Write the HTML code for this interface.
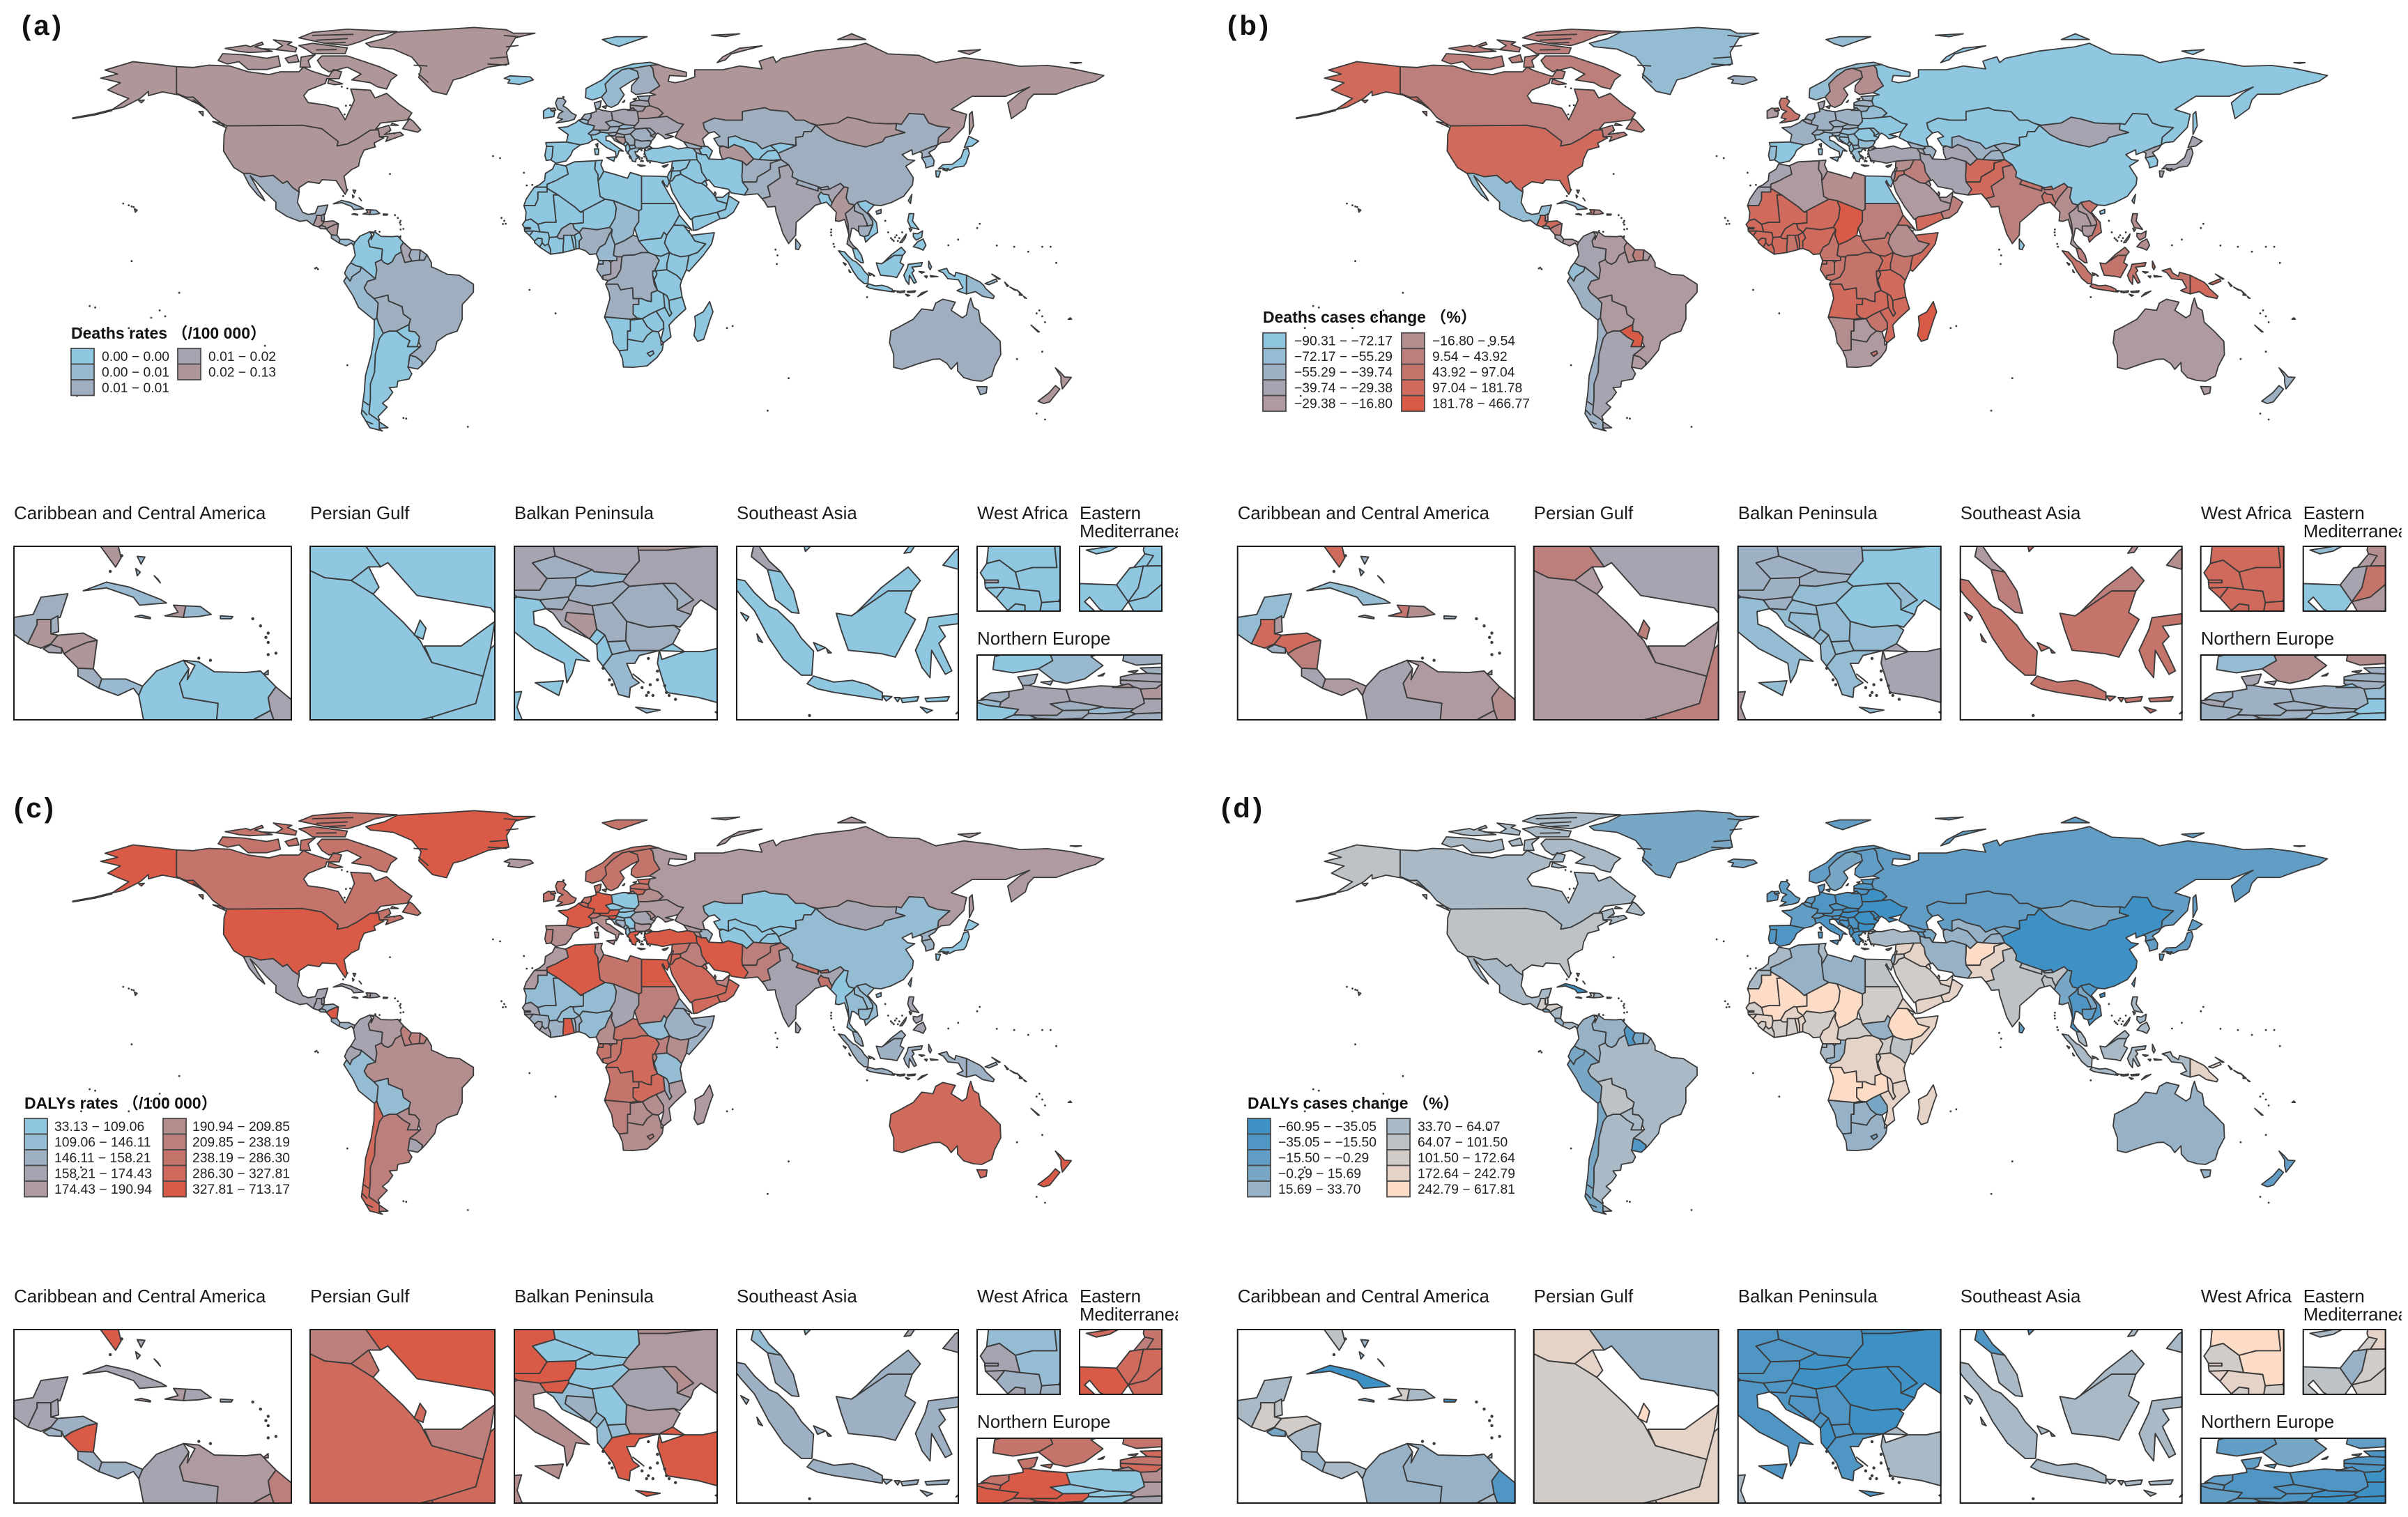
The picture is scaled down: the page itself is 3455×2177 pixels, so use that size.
<!DOCTYPE html>
<html lang="en">
<head>
<meta charset="utf-8">
<title>World maps of deaths and DALYs</title>
<style>
html,body{margin:0;padding:0;background:#fff;width:3455px;height:2177px;overflow:hidden}
svg{display:block}
text{font-family:"Liberation Sans","Noto Sans CJK SC",sans-serif;fill:#1a1a1a}
.plabel{font-weight:700;font-size:40px;letter-spacing:4px;fill:#111}
.ltitle{font-weight:700;font-size:23px;fill:#111}
.ltext{font-size:19.3px;fill:#222}
.ititle{font-size:25.9px;fill:#1a1a1a}
</style>
</head>
<body>
<svg id="figure" xmlns="http://www.w3.org/2000/svg" width="3455" height="2177" viewBox="0 0 3455 2177">
<rect width="3455" height="2177" fill="#fff"/>
<defs id="defs"></defs>
<g id="maps"></g>
<text class="plabel" x="31" y="50">(a)</text>
<text class="plabel" x="1761" y="50">(b)</text>
<text class="plabel" x="20" y="1173">(c)</text>
<text class="plabel" x="1752" y="1173">(d)</text>
</svg>
<script>
/* ---------- chart data ---------- */
const countries = ["Canada","United States","Greenland","Mexico","Guatemala","Belize","Honduras","El Salvador","Nicaragua","Costa Rica",
"Panama","Cuba","Haiti","Dominican Republic","Jamaica","Puerto Rico","Bahamas","Trinidad","Colombia","Venezuela",
"Guyana","Suriname","French Guiana","Brazil","Ecuador","Peru","Bolivia","Paraguay","Chile","Argentina",
"Uruguay","Morocco","Western Sahara","Algeria","Tunisia","Libya","Egypt","Mauritania","Mali","Niger",
"Chad","Sudan","South Sudan","Eritrea","Ethiopia","Somalia","Kenya","Uganda","Tanzania","Rwanda Burundi",
"DR Congo","Congo","Gabon","Equatorial Guinea","Cameroon","Central African Republic","Nigeria","Benin","Togo","Ghana",
"Burkina Faso","Ivory Coast","Liberia","Sierra Leone","Guinea","Guinea-Bissau","Senegal","Gambia","Angola","Zambia",
"Malawi","Mozambique","Zimbabwe","Namibia","Botswana","South Africa","Lesotho","Madagascar","Portugal","Spain",
"France","Belgium","Netherlands","Germany","Switzerland","Austria","Italy","United Kingdom","Ireland","Denmark",
"Norway","Sweden","Finland","Iceland","Estonia","Latvia","Lithuania","Poland","Czechia","Slovakia",
"Hungary","Slovenia","Croatia","Bosnia","Serbia","Montenegro","Albania","North Macedonia","Bulgaria","Romania",
"Moldova","Ukraine","Belarus","Greece","Turkey","Cyprus","Russia","Kazakhstan","Georgia","Armenia",
"Azerbaijan","Uzbekistan","Turkmenistan","Kyrgyzstan","Tajikistan","Afghanistan","Pakistan","Iran","Iraq","Syria",
"Lebanon","Israel","Jordan","Saudi Arabia","Kuwait","UAE","Qatar","Oman","Yemen","India",
"Bangladesh","Nepal","Bhutan","Sri Lanka","China","Mongolia","North Korea","South Korea","Japan","Taiwan",
"Myanmar","Thailand","Laos","Cambodia","Vietnam","Malaysia","Indonesia","Philippines","Papua New Guinea","Australia",
"New Zealand","Solomon Islands","New Caledonia","Fiji"];

const deathRates = [.04,.04,.04,.009,.04,.009,.04,.015,.04,.009,
.005,.005,.04,.005,.005,.005,.005,.009,.002,.002,
.015,.009,.009,.009,.005,.005,.009,.002,.002,.002,
.005,.002,.002,.002,.002,.002,.002,.002,.002,.002,
.005,.002,.002,.002,.002,.002,.002,.002,.002,.002,
.009,.015,.009,.005,.005,.009,.009,.002,.002,.002,
.009,.002,.002,.002,.002,.002,.002,.015,.009,.002,
.002,.002,.002,.002,.002,.002,.002,.002,.002,.002,
.002,.005,.009,.015,.005,.009,.002,.009,.002,.009,
.002,.005,.009,.002,.009,.015,.015,.015,.009,.005,
.009,.009,.015,.04,.009,.002,.002,.005,.009,.009,
.009,.015,.04,.005,.002,.002,.04,.009,.009,.009,
.002,.002,.04,.002,.002,.009,.009,.002,.002,.002,
.002,.002,.002,.002,.002,.002,.002,.002,.002,.015,
.002,.009,.009,.005,.009,.04,.009,.005,.002,.005,
.04,.015,.009,.009,.002,.002,.002,.002,.005,.009,
.04,.005,.005,.005];

const deathChange = [25,140,-63,-63,140,-23,140,-47,25,-34,
-23,-63,70,-3,-47,-47,-47,-23,-34,-23,
-3,25,-23,-23,-63,-47,-23,250,-47,-34,
-23,-34,-34,-23,-23,-3,-80,140,140,140,
250,25,70,70,-3,140,70,140,140,70,
70,70,70,70,70,70,140,140,140,70,
140,140,140,140,140,140,140,140,140,140,
140,140,70,-3,-23,-23,70,250,-63,-80,
-47,-34,-47,-47,-47,-47,-63,70,-23,-34,
-63,-3,-3,-47,-47,-47,-47,-47,-47,-47,
-63,-47,-63,-63,-63,-63,-63,-63,-63,-80,
-63,-80,-63,-63,-34,-63,-80,-80,-47,-34,
-47,-47,-34,-47,-47,140,140,-34,25,-3,
-23,-34,70,-23,-23,-23,25,25,140,25,
70,70,70,-80,-80,-34,-34,-80,-34,-80,
-3,-23,-23,-23,70,25,70,-3,140,-23,
-47,70,-23,-23];

const dalyRates = [262,420,420,166,166,166,152,152,420,152,
152,166,182,166,200,152,166,200,166,182,
224,224,224,200,166,130,130,200,305,224,
166,182,182,420,200,262,420,130,130,130,
166,224,130,152,152,152,200,224,130,224,
305,262,262,262,200,262,130,152,152,420,
130,152,166,166,152,166,166,166,262,305,
152,182,200,224,200,200,224,182,224,200,
420,305,262,420,262,420,200,262,262,262,
262,262,262,182,305,262,305,80,80,80,
80,420,130,152,80,130,130,130,182,166,
200,182,200,420,420,305,182,80,182,200,
152,80,80,80,80,224,224,420,224,262,
224,305,305,305,262,224,305,305,305,166,
262,262,262,166,130,166,152,152,80,130,
80,130,130,130,130,152,152,166,152,305,
420,152,152,152];

const dalyChange = [48,82,8,48,135,82,135,8,48,25,
48,-45,135,48,8,-45,25,25,25,25,
-25,8,25,48,8,8,82,48,8,48,
-25,48,48,25,48,25,82,350,350,350,
350,135,25,205,350,205,82,135,205,135,
205,25,48,48,205,135,135,205,205,135,
205,135,135,135,205,205,135,205,350,350,
205,205,8,25,25,25,8,205,-25,-25,
-8,-8,-8,-25,-8,-25,-25,-8,-8,-8,
-8,8,-8,8,-25,-25,-25,-25,-25,-45,
-45,-25,-25,-25,-25,-25,-45,-25,-45,-45,
-45,-45,-45,-25,48,48,-8,-8,-8,-8,
8,25,25,8,25,350,205,25,205,205,
135,25,135,135,205,205,350,205,205,82,
82,82,25,-8,-45,8,-8,-8,-8,-8,
8,-25,8,-8,-25,48,48,48,205,25,
-8,48,48,48];

const deathRateBreaks = [0,.003,.007,.012,.02,.13];
const deathChangeBreaks = [-90.31,-72.17,-55.29,-39.74,-29.38,-16.80,9.54,43.92,97.04,181.78,466.77];
const dalyRateBreaks = [33.13,109.06,146.11,158.21,174.43,190.94,209.85,238.19,286.30,327.81,713.17];
const dalyChangeBreaks = [-60.95,-35.05,-15.50,-0.29,15.69,33.70,64.07,101.50,172.64,242.79,617.81];

const deathRateLabels = ["0.00 − 0.00","0.00 − 0.01","0.01 − 0.01","0.01 − 0.02","0.02 − 0.13"];
const deathChangeLabels = ["−90.31 − −72.17","−72.17 − −55.29","−55.29 − −39.74","−39.74 − −29.38","−29.38 − −16.80","−16.80 − 9.54","9.54 − 43.92","43.92 − 97.04","97.04 − 181.78","181.78 − 466.77"];
const dalyRateLabels = ["33.13 − 109.06","109.06 − 146.11","146.11 − 158.21","158.21 − 174.43","174.43 − 190.94","190.94 − 209.85","209.85 − 238.19","238.19 − 286.30","286.30 − 327.81","327.81 − 713.17"];
const dalyChangeLabels = ["−60.95 − −35.05","−35.05 − −15.50","−15.50 − −0.29","−0.29 − 15.69","15.69 − 33.70","33.70 − 64.07","64.07 − 101.50","101.50 − 172.64","172.64 − 242.79","242.79 − 617.81"];

const palette5 = ["#8fc6e0","#98b9d0","#a0afc0","#a8a3b0","#af9699"];
const palette10 = ["#8fc6e0","#94bcd3","#9eb0c3","#a7a4b2","#ae9a9f","#b48d8e","#bc7f7c","#c5746b","#cf6a5c","#d95b47"];
const paletteCool = ["#3e91c5","#4f96c5","#629dc5","#78a6c5","#97b1c6","#a9b9c6","#bdc2c7","#d2ccc9","#e6d3c7","#fcdcc6"];

const insetTitles = ["Caribbean and Central America","Persian Gulf","Balkan Peninsula","Southeast Asia","West Africa","Northern Europe"];

/* ---------- country outlines, longitude,latitude ---------- */
const geo = {
"Canada":"-141,69.6 -135,69.3 -129.4,70.1 -122,69.8 -115.4,67.8 -108,66.8 -103.9,67.8 -97.3,67.8 -95.7,69.4 -93.2,68.2 -88.2,66.6 -86.6,66.2 -85,68.6 -82.1,67.8 -82.9,65.4 -87.4,65.4 -87.8,63.8 -94,61.4 -95.6,59.5 -94,57.1 -88,56.3 -83.3,55.1 -82,53.1 -80.8,51.1 -79.2,54.3 -77.5,57.9 -78.8,61.8 -71.8,61.4 -70.1,58.7 -66,60.3 -61.5,56.5 -57,53.5 -58.6,51.1 -68.1,50 -70,47.8 -65.2,49.2 -64.5,47.5 -66.8,46 -61.1,46.8 -60,45.8 -63.5,44.6 -66.3,43.6 -65.5,45.2 -67.2,45.3 -68.5,45.2 -68.9,47.6 -71.8,47.5 -76.7,44.4 -80,42.7 -83.7,42 -83.3,43.6 -89.1,48 -96,49.2 -123,49 -125,50 -128,52 -130.3,54.7 -135,59 -137.5,58.9 -141,60.3|-126.1,71.7 -124.5,74.1 -117,73.7 -108.8,72.5 -104.7,73.3 -103.9,69.8 -108.8,68.6 -115.4,68.6 -118.7,71.3 -122.8,70.5|-102.2,72.5 -98.1,73.7 -97.3,71.3 -101,70.9|-96.5,72.9 -91.5,73.7 -94,71.7 -93.2,69.4 -96.9,69.4|-123.6,75.9 -116.2,77 -114.6,76.5 -110.5,78.1 -110,77.3 -113,76.5 -106.8,74.9 -115,74.5 -118.7,74.9|-106.4,78.9 -99.8,78.1 -101.4,77.3 -98.1,76.1 -98.5,74.7 -105.5,75.5 -103.1,76.9|-97.3,76.9 -92.4,77.7 -80,76.1 -80.8,74.1 -92.4,74.1 -94.8,75.7|-97.3,79.6 -92.4,81.5 -80,82.6 -62.3,81.8 -70.1,80.4 -75.9,78.1 -80,76.9 -88.2,77.7 -94,78.9|-90.7,71.7 -89.1,73.3 -80,73.3 -75.1,71.7 -68.1,69.4 -62.3,66.6 -64.4,65 -66,61.8 -69.3,62.6 -71.8,64 -78.4,65 -75.1,67 -80,69.4 -83.3,68.6 -86.6,67.8 -89.1,69.4|-87,63.8 -86.6,65.2 -81.7,63.6 -84.5,63.3|-60.3,48 -57.8,51.5 -56.6,50.7 -53.8,47.6 -54.9,46.8|-128,50.5 -123.5,48.5 -125,50|-133,54 -131.5,54 -131.5,52.5|-64,49.9 -61.8,49.2 -64.5,49.2|-92.4,80.4 -78,80.8|-91,78.8 -80,79.3|-88.2,77.7 -80.8,78|-84,75.5 -91,75.4|-111,75.8 -105,75.6",
"United States":"-123,49 -96,49.2 -89.1,48 -83.3,43.6 -83.7,42 -80,42.7 -76.7,44.4 -71.8,47.5 -68.9,47.6 -68.5,45.2 -67,44.8 -70.5,43 -70,41.7 -74,40.6 -75.5,37.5 -76,35 -78.5,33.8 -81.2,31.5 -80.1,26.5 -80.8,25.2 -82.7,28 -84,30 -89,30.3 -90,29 -94,29.6 -97.3,27.5 -97.2,26 -99.5,27.5 -101.5,29.8 -103,29 -106.5,31.8 -111,31.3 -114.8,32.5 -117.1,32.5 -120.5,34.5 -122.5,37.5 -124.2,40.3 -124,46|-141,69.6 -141,60.3 -137.5,58.9 -135,59 -130.3,54.7 -133,56.5 -137,58.3 -140,59.7 -146,60.8 -151,59.5 -151,61 -154,58.5 -160,55.5 -164,54.6 -158,58.5 -162,60 -165.5,61.5 -161,64 -168,65.6 -162,67 -166.5,68.4 -156.5,71.3 -148,70.4|-164,54.3 -170,52.8 -178,51.5 -178,51.8 -170,53.2 -164,54.7|-156,20.2 -155,19.7 -155.7,19|-154.5,57.8 -152.5,58 -153.5,57|-135,58 -132,56|-134,57 -131,55.5",
"Greenland":"-73.4,77.7 -66.9,79.3 -62.3,81.6 -47.1,82.4 -34.8,83.2 -23.2,82.4 -20.8,81.2 -13,81.2 -20,79.6 -23.2,74.5 -22.4,70.5 -29.8,69.4 -38.9,65.8 -42.2,65 -44.6,59.9 -49.6,61 -54.5,65.8 -53.7,69 -57,72.9 -63.6,75.7 -71.8,76.5|-29,72.5 -23.2,72.9|-29.8,70.5 -23.2,70.1|-23.2,76.5 -19.1,76.9|-24,80.4 -19.1,80|-56.2,70.1 -51.6,69.8|-54.5,67 -51.2,64.2",
"Mexico":"-117.1,32.5 -114.8,32.5 -111,31.3 -106.5,31.8 -103,29 -101.5,29.8 -99.5,27.5 -97.2,26 -97.8,22.4 -96,19 -94,18.2 -91.5,18.6 -90.5,21 -87,21.5 -88,18.2 -89.2,17.9 -91,17.9 -91,17.2 -92.2,14.5 -94.5,16.2 -97,15.8 -101.5,17.5 -105.5,20 -105.5,22.5 -109.3,26 -112.5,29.5 -114.7,31.7 -112,27 -110,24 -109.5,23 -112,25 -115,28.5",
"Guatemala":"-92.2,14.5 -91,17.2 -91,17.9 -89.2,17.9 -89.2,15.9 -88.3,15.7 -89.2,14.5 -90.5,13.9",
"Belize":"-89.2,17.9 -88.3,18.4 -88.2,16.2 -89.2,15.9",
"Honduras":"-89.2,14.5 -88.3,15.7 -85,16 -83.2,15 -84.5,14.7 -86.5,13.8 -87.5,13.1 -87.8,13.9 -89.2,14.4",
"El Salvador":"-90.2,13.8 -89.2,14.4 -87.8,13.9 -87.8,13.2 -89.5,13.3",
"Nicaragua":"-87.5,13.1 -86.5,13.8 -84.5,14.7 -83.2,15 -83.7,11 -85.7,11.1",
"Costa Rica":"-85.7,11.1 -83.7,11 -82.6,9.6 -83,8.3 -85.7,10",
"Panama":"-83,8.3 -82.6,9.6 -79.5,9.6 -77.3,8.6 -77.8,7.3 -78.5,8.3 -80.5,7.3",
"Cuba":"-85,21.9 -82,23.1 -79,22.4 -75,20.7 -74.2,20.2 -77.7,19.9 -78.5,21 -82,22.3",
"Haiti":"-74.4,18.4 -72,18.2 -71.7,19.8 -73.3,19.9 -72.7,18.9",
"Dominican Republic":"-71.7,19.8 -72,18.2 -70,18.3 -68.4,18.6 -69.8,19.7",
"Jamaica":"-78.3,18.3 -76.3,18 -76.3,18.2 -77.5,18.5",
"Puerto Rico":"-67.2,18.4 -65.6,18.3 -65.8,18 -67.2,18",
"Bahamas":"-78,26.7 -77,26.6 -77.5,25.6|-78.2,25 -77.6,24.5 -78,24|-75.8,24 -75,23 -75.3,23.5",
"Trinidad":"-61.7,10.2 -61,10.2 -61,10.8",
"Colombia":"-77.3,8.6 -75.5,10.7 -72,12.2 -71.3,11 -72.5,9 -72,7 -67.5,6.2 -67.8,2.5 -70,1.5 -69.5,-1 -70,-4.2 -72,-2.5 -75,-0.1 -77,0.4 -78.8,1.4 -77.2,4 -77.8,7.3",
"Venezuela":"-72,12.2 -70,12 -68,10.6 -64,10.5 -62,10.7 -60,8.5 -61,7 -60.7,5.2 -62.8,4 -64,1.8 -65.5,0.9 -67,1.5 -67.8,2.5 -67.5,6.2 -72,7 -72.5,9 -71.3,11 -71.5,9.5 -70.5,11.5",
"Guyana":"-60,8.5 -57.2,6 -58,4 -57,2 -59.5,1.5 -60.7,5.2 -61,7",
"Suriname":"-57.2,6 -54,5.9 -54.3,2.3 -57,2 -58,4",
"French Guiana":"-54,5.9 -51.6,4.2 -52.6,2.3 -54.3,2.3",
"Brazil":"-51.6,4.2 -50,1.5 -50,0 -48,-0.8 -44.3,-2.6 -40,-2.9 -37,-4.8 -35,-6 -35,-8.8 -37,-11 -39,-13 -39,-18 -40.8,-22 -44.5,-23.2 -48,-25.5 -48.8,-28.5 -52,-32.2 -53.5,-33.7 -53.2,-32.5 -55.5,-30.8 -57.7,-30.2 -53.8,-27.2 -54.6,-25.6 -54.3,-24 -55.8,-22.3 -58,-22 -58,-19.8 -57.5,-18 -60,-16.3 -60.5,-13.7 -65.3,-11.8 -65.5,-9.8 -70.5,-11 -73,-9 -74,-7.3 -72.8,-5 -70,-4.2 -69.5,-1 -70,1.5 -67.8,2.5 -67,1.5 -65.5,0.9 -64,1.8 -62.8,4 -60.7,5.2 -59.5,1.5 -57,2 -54.3,2.3 -52.6,2.3",
"Ecuador":"-78.8,1.4 -77,0.4 -75,-0.1 -75.5,-1.5 -78.3,-3.4 -79,-5 -80.3,-3.4 -81,-2.2 -80,0",
"Peru":"-75,-0.1 -72,-2.5 -70,-4.2 -72.8,-5 -74,-7.3 -73,-9 -70.5,-11 -69,-12.5 -69.5,-17.5 -70.4,-18.3 -76,-14 -78,-10 -81.3,-5 -80.3,-3.4 -79,-5 -78.3,-3.4 -75.5,-1.5",
"Bolivia":"-70.5,-11 -65.5,-9.8 -65.3,-11.8 -60.5,-13.7 -60,-16.3 -57.5,-18 -58,-19.8 -62.5,-22 -65,-22 -67.2,-22.8 -68.8,-19.5 -69.5,-17.5 -69,-12.5",
"Paraguay":"-58,-19.8 -58,-22 -55.8,-22.3 -54.3,-24 -54.6,-25.6 -55,-27.3 -58.6,-27.3 -57.7,-25.3 -60,-24 -62.5,-22",
"Chile":"-70.4,-18.3 -69.5,-17.5 -68.8,-19.5 -67.2,-22.8 -68.5,-24.5 -70,-30 -70.3,-36 -71.8,-40 -71.8,-45 -72.3,-50 -69,-52.2 -68.5,-53 -68.6,-55.2 -67.5,-55.9 -72,-54.8 -75,-50 -74,-43 -73.5,-37 -71.5,-30 -70.5,-24|-74,-46 -72.5,-47|-74.5,-49 -73,-50.5|-73.5,-52.5 -71,-53.5",
"Argentina":"-67.2,-22.8 -65,-22 -62.5,-22 -60,-24 -57.7,-25.3 -58.6,-27.3 -55,-27.3 -53.8,-27.2 -57.7,-30.2 -58.2,-33.5 -58.4,-34.2 -57,-36.5 -58,-38.3 -62,-39 -62.3,-41 -65,-41.2 -63.8,-42.8 -65.5,-45 -67.5,-46.5 -65.8,-47.8 -69,-51 -68.5,-52.2 -69,-52.2 -72.3,-50 -71.8,-45 -71.8,-40 -70.3,-36 -70,-30 -68.5,-24.5|-68.6,-52.8 -65.5,-54.8 -68.6,-55",
"Uruguay":"-57.7,-30.2 -55.5,-30.8 -53.2,-32.5 -53.5,-33.7 -54.9,-34.9 -58.4,-34.2 -58.2,-33.5",
"Morocco":"-5.9,35.8 -2.2,35.1 -1.7,34.5 -1.2,32.2 -3.7,31 -5.5,30 -8.7,28.7 -8.7,27.7 -13.2,27.7 -11.5,28.5 -9.6,30 -9.3,32.5 -6.8,34",
"Western Sahara":"-8.7,27.7 -8.7,26 -12,26 -12,23.5 -13,21.3 -17,21.3 -16.2,23.5 -14.5,26 -13.2,27.7",
"Algeria":"-2.2,35.1 1,36.5 8.6,36.9 8.3,34 9.5,32 9.5,30 10.2,24.5 12,23.5 3.2,19 1.2,20.8 -4.8,25 -8.7,27.3 -8.7,28.7 -5.5,30 -3.7,31 -1.2,32.2 -1.7,34.5",
"Tunisia":"8.6,36.9 11,37.1 10.5,35.5 11.5,33.2 10,30.5 9.5,30 9.5,32 8.3,34",
"Libya":"11.5,33.2 15,32.3 20,30.8 21,32.8 25,31.6 25,22 25,20 24,19.5 15,23 12,23.5 10.2,24.5 9.5,30 10,30.5",
"Egypt":"25,31.6 31,31.5 34.2,31.3 34.9,29.5 34.2,27.8 33.2,28.7 32.6,30 32.3,29.5 33.5,27.5 35.5,24 37,22 25,22",
"Mauritania":"-17,21.3 -13,21.3 -12,23.5 -12,26 -8.7,26 -8.7,27.3 -4.8,25 -6.5,25 -5.5,15.5 -9.3,15.5 -12,14.8 -14.5,16.6 -16.5,16.1 -16.2,19",
"Mali":"-4.8,25 1.2,20.8 3.2,19 4.2,19.2 4.2,15.3 0.5,15 -0.5,15.1 -2,14.2 -3.5,13.3 -5.2,10.4 -7.9,10.2 -8.3,11.9 -11.3,12.2 -12,14.8 -9.3,15.5 -5.5,15.5 -6.5,25",
"Niger":"4.2,19.2 3.2,19 12,23.5 15,23 16,20.5 15.5,16.9 13.6,13.7 9,12.9 4,13.5 2.8,12 1,13.3 0.5,15 4.2,15.3",
"Chad":"15,23 24,19.5 24,15.7 22.5,13.5 22,11 18.7,9 15.5,7.7 14.2,11 14.5,13 13.6,13.7 15.5,16.9 16,20.5",
"Sudan":"25,22 37,22 38.5,18 36.5,14.5 34,11 33,12 32,10 27,9.5 24,9 23.5,10.5 22.5,13.5 24,15.7 24,19.5 25,20",
"South Sudan":"24,9 27,9.5 32,10 33,12 34,11 33.2,8.3 35,5 32,3.7 30,4 27.5,5 25,5",
"Eritrea":"36.5,14.5 38.5,18 43,12.7 40,14.4",
"Ethiopia":"34,11 36.5,14.5 40,14.4 42.8,11 44,9 47.9,8 45,5 41.9,3.9 39,3.5 36,4.4 35,5 33.2,8.3",
"Somalia":"42.8,11 51,11.9 50,8 47,4 42,-1.5 41,-1 41.9,3.9 45,5 47.9,8 44,9",
"Kenya":"35,5 36,4.4 39,3.5 41.9,3.9 41,-1 39.3,-4.7 37.6,-3 34,-1 34,1",
"Uganda":"30,4 32,3.7 35,5 34,1 34,-1 30,-1.4 29.6,-1.4 31.3,2.2",
"Tanzania":"34,-1 37.6,-3 39.3,-4.7 38.8,-6.5 39.5,-10.5 34.8,-11.6 34,-10 32.8,-9.3 30.7,-8.2 29.5,-4.5 30.5,-2.5 30,-1.4",
"Rwanda Burundi":"29,-1.4 30,-1.4 30.5,-2.5 29.5,-4.5 29,-3",
"DR Congo":"12.2,-6 13,-4.8 16,-3.5 17.5,-1 18,3.5 18.6,4 22.5,4.2 25,5 27.5,5 30,4 31.3,2.2 29.6,-1.4 29,-1.4 29,-3 29.5,-6 30.7,-8.2 28.5,-9 28.5,-12 27,-11.8 25,-11 22,-11 21.8,-7.3 17.5,-8 16.5,-6",
"Congo":"11.2,-4.3 13,-4.8 16,-3.5 17.5,-1 18,3.5 16.2,3.5 14,1.5 14,-2.5 11.2,-3",
"Gabon":"9.5,1 11.3,1 11.3,2.2 13.3,2.2 14,1.5 14,-2.5 11.2,-3 11.2,-4.3 9,-1",
"Equatorial Guinea":"9.5,1 11.3,1 11.3,2.2 9.8,2.2",
"Cameroon":"9.8,2.2 13.3,2.2 16.2,2.2 16.2,3.5 15,4 15.5,7.7 14.2,11 14.5,13 13.3,11 12,8 10,6.8 8.8,4.5",
"Central African Republic":"15,4 16.2,3.5 18,3.5 18.6,4 22.5,4.2 25,5 27.5,5 24,9 23.5,10.5 22,11 18.7,9 15.5,7.7",
"Nigeria":"2.7,6.4 5,5.6 6.5,4.3 8.5,4.5 8.8,4.5 10,6.8 12,8 13.3,11 14.5,13 13.6,13.7 9,12.9 4,13.5 2.8,12 3.7,10 2.7,9",
"Benin":"1.6,6.2 2.7,6.4 2.7,9 3.7,10 2.8,12 1,11 1.5,9",
"Togo":"1,6 1.6,6.2 1.5,9 1,11 -0.1,11 0.5,8.5",
"Ghana":"-3,5 1,6 0.5,8.5 -0.1,11 -2.8,11 -2.8,9 -3,7",
"Burkina Faso":"-5.2,10.4 -3.5,13.3 -2,14.2 -0.5,15.1 0.5,15 1,13.3 2.8,12 1,11 -0.1,11 -2.8,11 -2.8,9.8 -4.5,9.8",
"Ivory Coast":"-7.5,4.4 -3,5 -3,7 -2.8,9 -2.8,9.8 -4.5,9.8 -5.2,10.4 -7.9,10.2 -8.3,8 -7.5,6",
"Liberia":"-11.4,6.9 -7.5,4.4 -7.5,6 -8.3,8 -9.5,7.4 -10.5,8.4",
"Sierra Leone":"-13.2,8.5 -11.4,6.9 -10.5,8.4 -10.5,9.8 -12,10 -13.2,9",
"Guinea":"-15,10.9 -13.2,9 -12,10 -10.5,9.8 -10.5,8.4 -9.5,7.4 -8.3,8 -7.9,10.2 -8.3,11.9 -11.3,12.2 -13.7,12.5",
"Guinea-Bissau":"-16.7,12.4 -13.7,12.5 -15,10.9",
"Senegal":"-16.5,16.1 -14.5,16.6 -12,14.8 -11.3,12.2 -13.7,12.5 -16.7,12.4 -16.8,13.2 -14.7,13.2 -14.7,13.6 -16.8,13.6 -17.5,14.7",
"Gambia":"-16.8,13.6 -14.7,13.6 -14.7,13.2 -16.8,13.2",
"Angola":"12.2,-6 16.5,-6 17.5,-8 21.8,-7.3 22,-11 24,-11 24,-13 22,-13 22,-16.3 23.4,-17.6 21,-18 13,-17.3 11.8,-17.3 13.7,-11 13.4,-9",
"Zambia":"22,-11 25,-11 27,-11.8 28.5,-12 28.5,-9 30.7,-8.2 32.8,-9.3 33,-11 33.3,-14 30.2,-15.3 28,-16.3 25.3,-17.8 23.4,-17.6 22,-16.3 22,-13 24,-13 24,-11",
"Malawi":"32.8,-9.3 34,-10 34.8,-11.6 35,-14.5 35.8,-16 35,-17 33.3,-14 33,-11",
"Mozambique":"34.8,-11.6 39.5,-10.5 40.8,-14.5 37,-17.8 34.8,-20 35.5,-24 32.8,-26 31.9,-25 32.9,-21 32.8,-19 30.2,-15.3 33.3,-14 35,-17 35.8,-16 35,-14.5",
"Zimbabwe":"25.3,-17.8 28,-16.3 30.2,-15.3 32.8,-19 32.9,-21 31,-22.3 29,-22 27,-20.5",
"Namibia":"11.8,-17.3 13,-17.3 21,-18 23.4,-17.6 25.3,-17.8 21,-18.3 21,-22 20,-22 20,-28.4 17,-28.7 15,-26 14.3,-22",
"Botswana":"21,-18.3 25.3,-17.8 27,-20.5 29,-22 27,-23.5 25.5,-25.7 23,-25.3 20,-24.8 20,-22 21,-22",
"South Africa":"17,-28.7 20,-28.4 20,-24.8 23,-25.3 25.5,-25.7 27,-23.5 29,-22 31,-22.3 31.9,-25 32,-26.8 32.8,-26 32.4,-28.5 30.5,-31 27,-33.8 22,-34.3 18.5,-34.2 18.2,-31.5",
"Lesotho":"27,-29.5 29,-28.7 29.4,-29.6 28,-30.6",
"Madagascar":"49.3,-12 50.5,-15.5 49.5,-18 47.2,-24.8 45,-25.5 43.7,-23.5 44.3,-20 44,-17 47,-15.5",
"Portugal":"-8.9,41.9 -6.6,41.9 -6.9,38.2 -7.4,37.2 -9,37 -9.5,38.7",
"Spain":"-9.2,43.2 -1.8,43.4 3.2,42.4 0.5,40.5 -0.3,38.8 -2,36.8 -5.5,36 -7.4,37.2 -6.9,38.2 -6.6,41.9 -8.9,41.9",
"France":"-1.8,43.4 -1.2,46 -4.7,48.4 -1.5,48.7 1.5,50.1 2.5,51 4.2,50 5.8,49.6 8.2,49 7.6,47.6 6,46.3 6.9,45.8 7.5,44 6,43 3.2,42.4|8.6,42.5 9.4,42.9 9.3,41.5",
"Belgium":"2.5,51 4.2,51.4 6,50.8 5.8,49.6 4.2,50",
"Netherlands":"3.5,51.5 4.7,53 7,53.4 7,52 6,50.8 4.2,51.4",
"Germany":"6,50.8 7,52 7,53.4 8.8,54 8.7,54.9 9.5,54.9 11,54.4 14.2,53.9 14.7,51 12.2,50.3 13.8,48.7 13,47.5 9.6,47.5 7.6,47.6 8.2,49 5.8,49.6",
"Switzerland":"6,46.3 7.6,47.6 9.6,47.5 10.5,46.8 8.5,45.9 6.9,45.8",
"Austria":"9.6,47.5 13,47.5 13.8,48.7 17,48.8 17,48 16.2,46.8 13,46.5 10.5,46.8",
"Italy":"7.5,44 6.9,45.8 8.5,45.9 10.5,46.8 13,46.5 13.7,45.6 12.3,45.3 12.4,44 13.6,43.6 16,41.9 18.5,40.2 17,40.4 16.6,39 16,38 15.7,40 12.5,41.5 10.5,43 8.8,44.4|12.5,38 15.6,38.2 15.1,36.7|8.2,41 9.7,41 9.6,39 8.5,39",
"United Kingdom":"-3,58.6 -2,57.5 -3,56 -1.5,55 0,53.5 1.7,52.7 1,51.3 -1,50.7 -5.5,50 -3.2,51.4 -5,51.8 -4.3,53.3 -3,54 -5,54.8 -5.7,57 -5,58.6|-6,55.2 -7.5,55 -7.3,54.2 -5.6,54.4|-3,59.2 -2.6,59 -3,58.9",
"Ireland":"-7.5,55 -7.3,54.2 -6,53.8 -6.3,52.2 -10,51.6 -10,54.2 -8.3,55.2",
"Denmark":"8.1,57 10.6,57.7 10.2,55.5 9.5,54.9 8.7,54.9|11,55.7 12.5,56 12.2,55",
"Norway":"5,58.8 7.5,58 10.7,59 12.5,61 12,63.5 14.5,66 18,68.5 20.5,69 22,69 28,70 31,70.3 28,71.1 22,70.5 15,68.5 11,65 5.2,62|11,79 16,80 27,80 21,78 17,76.6 14,77.5",
"Sweden":"10.7,59 12.7,56 14.2,55.4 16.5,56.5 18.8,59.8 17.3,62 21.3,64.5 24,65.8 23.5,68 20.5,69 18,68.5 14.5,66 12,63.5 12.5,61|18.2,57.2 19,57.9 18.8,57.3",
"Finland":"24,65.8 21.5,63 21.3,61 23,59.9 27.8,60.5 31.5,62.9 29.5,66 29,69 28,70 22,69 20.5,69 23.5,68",
"Iceland":"-24,65.5 -22,66.4 -18,66.2 -14.7,66 -13.6,65 -18.5,63.4 -22.7,63.9 -22,65",
"Estonia":"23.5,59.2 28,59.5 27.4,57.6 24.4,57.9|22,58.3 23.2,58.6 22.8,58",
"Latvia":"21,57 22.6,57.7 24.4,57.9 27.4,57.6 28,56 26.5,55.7 21,56.2",
"Lithuania":"21,56.2 26.5,55.7 25.5,54.2 23.5,54 21,55.3",
"Poland":"14.2,53.9 18.5,54.8 23,54.4 23.5,54 23.9,51.6 24,50.5 22.7,49.1 19,49.4 18.8,49.6 14.7,51",
"Czechia":"12.2,50.3 14.7,51 18.8,49.6 17,48.8 13.8,48.7",
"Slovakia":"17,48.8 18.8,49.6 19,49.4 22.7,49.1 22.2,48.4 18.8,47.9 17,48",
"Hungary":"16.2,46.8 17,48 18.8,47.9 22.2,48.4 22.9,47.9 21,46.2 18.8,45.9 16.2,46.5",
"Slovenia":"13.7,45.6 13,46.5 16.2,46.8 16.2,46.5 15.5,45.5",
"Croatia":"13.7,45.6 15.5,45.5 16.2,46.5 18.8,45.9 19,45 16,45.2 15.8,44.4 18.5,42.5 15.5,43.8 14.5,45.1",
"Bosnia":"15.8,44.4 16,45.2 19,45 19.3,43.5 18.5,42.5",
"Serbia":"18.8,45.9 21,46.2 22.6,44.3 22.5,42.3 20.5,42.2 20.2,42.9 19.3,43.5 19,45",
"Montenegro":"18.5,42.5 19.3,43.5 20.2,42.9 19.3,41.9",
"Albania":"19.3,41.9 20.2,42.9 20.5,42.2 21,40.9 20,39.7 19.4,40.4",
"North Macedonia":"20.5,42.2 22.5,42.3 23,41.3 21,40.9",
"Bulgaria":"22.6,44.3 25,43.7 27.8,43.9 28.5,43.4 27.7,42 26.2,41.3 23,41.3 22.5,42.3",
"Romania":"21,46.2 22.9,47.9 26.6,48.2 28.2,46.5 28.2,45.5 29.7,45 28.5,43.7 27.8,43.9 25,43.7 22.6,44.3",
"Moldova":"26.6,48.2 28,48.2 30,46.5 28.2,45.5 28.2,46.5",
"Ukraine":"24,50.5 23.9,51.6 27,51.6 31,52 34,52.3 38,50 40,49.6 38,47.1 35,46.3 33.5,46 36.5,45.3 33.5,44.5 32.5,45.5 30.8,46.5 30,45.8 29.7,45 28.2,45.5 30,46.5 28,48.2 26.6,48.2 22.9,47.9 22.2,48.4 22.7,49.1",
"Belarus":"23.5,54 25.5,54.2 26.5,55.7 28,56 31,55 32.7,53.4 31,52 27,51.6 23.9,51.6",
"Greece":"20,39.7 21,40.9 23,41.3 26.2,41.3 24,40.8 23.5,40 22.6,40 23.3,38.5 24,38 23,37.5 22.9,36.5 21.7,36.8 21.1,38.3|23.6,35.5 26.3,35.2 24.8,34.9|23.3,38.9 24.5,38 24,38.4",
"Turkey":"26.2,41.3 26,40 27,37 30.5,36.5 32.5,36 36,36.7 37,36.8 42.4,37.2 44.8,37.2 44.5,39.7 43.5,41.1 41.5,41.5 38,41 35,42 31,41.2 29,41.2|26.2,41.3 27.7,42 29,41.2 26.5,40.4",
"Cyprus":"32.4,35 34.5,35.6 33.8,34.9 33,34.6",
"Russia":"31,70.3 33,69.5 41,67.6 41,66.2 35,66.5 34.5,64.5 37,64 40,64.6 44,66 44,68.5 54,68.5 60,69.8 68,68.8 67,71.5 72,73 73,71 75,72.5 80,73.5 87,75 100,76.5 105,77.7 113,74 124,73.5 130,71 140,72.7 150,71.5 160,69.7 170,70 178,69 190,66.5 187,64.5 180,62.5 173,60 165,60 163,58 162,55 157,51.5 155.7,57 160,60.5 163.5,62.5 155,59.3 143,59.3 135.5,54.7 141,53 140,48.5 135,43.5 132,43.2 130.7,42.4 131,45 135,48.4 130.6,48.9 127.5,50 125.7,53 120.5,53.3 117.7,49.5 116,49.8 113,49.7 107,50 102,51.4 98.5,52 95,50 87.8,49.2 85,50 83,51 80,51 77,54 71,54.5 69,55.3 61,54 61,51 55,51 51,51.7 47,50 47.5,48 49,46.5 46.8,44.5 47.5,42 48.6,41.8 46,41.9 40,43.5 37,45 38,47.1 40,49.6 38,50 34,52.3 31,52 32.7,53.4 31,55 28,56 27.4,57.6 28,59.5 30,59.8 27.8,60.5 31.5,62.9 29.5,66 29,69 28,70|52,71 55,72 57,74 68,76.8 60,76 54,73|142,46 143.5,49 143,54 142,53 142,48|20,54.4 22.8,54.4 22,55.3|95,79 105,79 100,81|50,80.5 60,81 55,80|178,71 182,71 180,70.7|138,75 146,75.5 142,73.8",
"Kazakhstan":"47,50 51,51.7 55,51 61,51 61,54 69,55.3 71,54.5 77,54 80,51 83,51 85,50 87.2,49.2 85.5,47 83,47 82.5,45.3 80,45 80.2,42.2 74.5,43 71,42.2 68,41 66,43 61,44.3 58.5,45.5 56,45 56,41.3 54,42 52.5,42 50.8,44.6 53,45.3 51,47 49,46.5 47.5,48",
"Georgia":"40,43.5 46,41.9 46.5,41.2 45.5,41 43.5,41.1 41.5,41.5",
"Armenia":"43.5,41.1 45.5,41 46.5,39 44.5,39.7",
"Azerbaijan":"46,41.9 48.6,41.8 50.3,40.3 49,37.5 48,39 46.5,39 45.5,41 46.5,41.2",
"Uzbekistan":"56,45 58.5,45.5 61,44.3 66,43 68,41 71,42.2 73,40.5 70,40.2 68,38.5 67,37.3 65,37.5 61.5,41.3 58,42.5 56,41.3",
"Turkmenistan":"52.8,41.5 54,42 56,41.3 58,42.5 61.5,41.3 65,37.5 62.5,35.3 61,36.6 56,38 53.9,37.3 53,39.5",
"Kyrgyzstan":"71,42.2 74.5,43 80.2,42.2 73.8,39.5 73,40.5",
"Tajikistan":"68,38.5 70,40.2 73,40.5 73.8,39.5 74.8,37.3 71.5,37 67,37.3",
"Afghanistan":"61,36.6 62.5,35.3 65,37.5 67,37.3 71.5,37 74.8,37.3 71,36 71,34 69.5,33 66.5,31.3 66,29.5 61,29.5 60.8,31.5 61,34",
"Pakistan":"61,29.5 66,29.5 66.5,31.3 69.5,33 71,34 71,36 74.8,37.3 77.5,35.5 74,34.5 74.5,31 70,28 71,24.5 68,23.7 66.5,25.4 61.7,25",
"Iran":"44.8,37.2 44.5,39.7 46.5,39 48,39 49,37.5 53.9,37.3 56,38 61,36.6 61,34 60.8,31.5 61,29.5 63,27 61.7,25 57,25.7 56,27 51,27.9 49,30.3 48.5,30 46.5,33 46,35.7",
"Iraq":"42.4,37.2 44.8,37.2 46,35.7 46.5,33 48.5,30 47.7,30 46.5,29 44.7,29.2 39,32.2 38.8,33.4 41,34.4",
"Syria":"36,36.7 37,36.8 42.4,37.2 41,34.4 38.8,33.4 36,33.3 36,34 35.8,35",
"Lebanon":"35.2,33.1 35.9,34.6 36.4,34.4 36,33.3",
"Israel":"34.2,31.3 35,33.1 35.8,33.3 35.5,31 34.9,29.5",
"Jordan":"35.8,33.3 36,33.3 38.8,33.4 39,32.2 37,31.5 36,30 34.9,29.5 35.5,31",
"Saudi Arabia":"36,30 37,31.5 39,32.2 44.7,29.2 46.5,29 48,28 50,26 51.2,24.6 52,23 55.5,22 55,20 52,19 48.8,18.2 44,17.4 43,16.7 42.5,16.5 39,21 36,26 34.9,29.5",
"Kuwait":"46.5,29 47.7,30 48.4,28.5 48,28",
"UAE":"51.5,24.2 54,24.2 56.3,26 56,24 55.5,22 52,23",
"Qatar":"50.8,25 51.2,26.1 51.6,25.5 51.4,24.7",
"Oman":"55.5,22 56,24 56.5,24.5 59.8,22.5 57.8,19 55,17 53,16.7 52,19 55,20",
"Yemen":"43,16.7 44,17.4 48.8,18.2 52,19 53,16.7 45,12.9 43.5,12.7",
"India":"74,34.5 77.5,35.5 79,33 78.7,31.3 81,30.2 80.2,28.8 88,26.4 88,27.9 89,26.8 92,27 96,29 97.3,27.8 94,24 93,22.2 92,24 91.8,25 89.8,25.3 89,26 88,24.5 89,22 87,21.4 85,19.5 80.2,15.5 80,11 77.5,8.1 75.5,11.5 73,19 72.7,21 70,20.8 69,22.5 68,23.7 71,24.5 70,28 74.5,31",
"Bangladesh":"88,24.5 89,26 89.8,25.3 91.8,25 92,24 93,22.2 92.5,21 91,22.5 89,22",
"Nepal":"80.2,28.8 81,30.2 88,27.9 88,26.4",
"Bhutan":"89,26.8 92,27 91.5,28 89,27.5",
"Sri Lanka":"80,9.7 81.8,7.5 81,6 80,6.2",
"China":"73.8,39.5 80.2,42.2 80,45 82.5,45.3 83,47 85.5,47 87.2,49.2 91,46 95,44 101,42.5 105,41.7 111,43.5 112,45 119,46.7 115.7,47.7 116,49.8 117.7,49.5 120.5,53.3 125.7,53 127.5,50 130.6,48.9 135,48.4 131,45 130.7,42.4 128,41.5 124.3,40 121.7,39 121.5,40.7 118,39 120,37.3 122.5,37 119.3,35 122,31 121.7,28.5 118.5,24.5 114,22.3 110.5,21.3 108,21.5 106.7,22 105,23 102,22.4 101,21.5 99,22 98,24 98.7,27.5 97.3,27.8 96,29 92,27 91.5,28 89,27.5 88,27.9 81,30.2 78.7,31.3 79,33 77.5,35.5 74.8,37.3|108.7,19.3 110.5,20 110.5,18.7 109,18.3",
"Mongolia":"87.8,49.2 95,50 98.5,52 102,51.4 107,50 113,49.7 116,49.8 115.7,47.7 119,46.7 112,45 111,43.5 105,41.7 101,42.5 95,44 91,46 87.2,49.2",
"North Korea":"124.3,40 128,41.5 130.7,42.4 129.7,41 127.5,39.7 128.4,38.6 125,37.9 125.2,39.5",
"South Korea":"125,37.9 128.4,38.6 129.4,37 129.2,35.2 126.5,34.4 126.2,36",
"Japan":"130.9,34 132.5,35.5 136,35.7 139,38 140,40.7 141.5,41.2 142,39.5 140.8,36 140,35 137,34.6 135,33.6 132.5,34.3|140.2,41.5 141.8,45.4 145.3,43.7 143,42|130,33.4 131.7,33.3 131,31.2 130.2,31.3|132.5,33.8 134.5,34.2 134,33.3",
"Taiwan":"120.2,23 121.5,25.2 121,22",
"Myanmar":"92.5,21 93,22.2 94,24 97.3,27.8 98.7,27.5 98,24 99,22 101,21.5 100,20.3 97.7,18.5 98.7,15 99,11 98.5,13 97.5,16.5 95.5,15.8 94.2,16 94.5,19",
"Thailand":"100,20.3 101,21.5 101,19.5 104,18.2 105.5,15 105.5,14.2 102.5,14.2 102.5,12.2 100.8,13.4 100,13.4 99.2,9.3 100.5,7.5 102,6.2 100.3,6.5 98.3,8 99,11 98.7,15 97.7,18.5",
"Laos":"101,21.5 102,22.4 103,20.7 106,18.2 107.5,15.8 107.5,14.6 105.5,14.2 105.5,15 104,18.2 101,19.5",
"Cambodia":"102.5,14.2 105.5,14.2 107.5,14.6 106,11 104.5,10.5 103,11 102.5,12.2",
"Vietnam":"102,22.4 105,23 106.7,22 108,21.5 105.7,19 108.8,15.5 109.3,12 107,10.5 105,8.6 104.5,10.5 106,11 107.5,14.6 107.5,15.8 106,18.2 103,20.7",
"Malaysia":"100.3,6.5 102,6.2 103.5,4 104.2,1.4 103.3,1.5 101.3,3|110.7,1.1 111.3,1.5 114.4,4.4 117.7,6.8 119.2,5.2 118.2,4 115.2,4",
"Indonesia":"95.3,5.6 97.5,5.2 98.7,3.8 100.5,2.2 101.5,1.8 103.5,0 104.5,-1.5 106,-3 105.8,-5.8 104.5,-5.8 102.3,-4 100.5,-1.5 98.7,1.7 97,3.5|105.2,-6.8 106,-5.9 108.5,-6.6 110.8,-6.4 112.7,-6.9 114.5,-7.8 114.5,-8.7 112,-8.3 108.5,-7.8 106.5,-7.4|108.8,1.4 110.7,1.1 115.2,4 118.2,4 117.3,1.5 118.6,0.7 116.1,-3.7 114.4,-3.3 110.3,-2.9 109.4,-0.5|119.8,-0.5 120.2,0.9 125.2,1.5 124.8,0.3 121.5,-0.1 122.3,-1.3 121.5,-2.1 123.1,-5.3 122.3,-5.7 120.6,-2.9 120.4,-6.1 119.4,-4.9 118.6,-2.9|114.5,-8.2 115.7,-8.3 115,-8.8|116,-8.4 116.7,-8.4 116.4,-8.9|116.8,-8.5 119,-8.3 118.8,-8.8 117,-9|119.8,-8.5 122.8,-8.3 122.5,-8.8 120,-8.9|123.6,-10.3 125,-9 127,-8.4 125,-9.6|119.2,-9.5 120.7,-9.9 120,-10.2|127.5,2 128.5,0 128,-1 127.5,0|128,-3 130.8,-3.4 128.3,-3.5|126,-3.2 127,-3.2 126.7,-3.8|131,-1.3 133.9,-0.5 134.7,-2.1 136.8,-3.3 137.2,-1.9 141,-2.9 141,-9.4 138.5,-8.6 137.6,-8.2 139.7,-7.3 138.1,-4.5 134.3,-4.1 132.7,-2.1|106,-2 107.5,-2.6 106.5,-3|107.6,-2.7 108.2,-3.2 107.8,-3.2|97,1.5 98,1 97.7,0.5|99,-1 99.7,-2 99.2,-1.8|124,-1.6 126,-1.8 125,-2.2",
"Philippines":"120.5,18.5 122.2,18.5 121.7,16 124,13 121,13.7 120,16|122,7 123.5,8.7 125.5,9.7 126.5,7.5 125.5,5.8 124,6.5|122,11.7 123.5,11.5 125.3,12.5 125,10.3 123,9.3 122,10.5|117.2,8.4 119.5,11.4 119.2,10.2 118,8.5|120.5,13.4 121.5,13 121,12.3",
"Papua New Guinea":"141,-2.9 145.9,-5.3 147.2,-6.5 147.8,-7.5 150.9,-10.2 150.5,-11 146.7,-10.2 144.2,-8.6 141,-9.4|147.6,-5.8 151.5,-4.2 152,-5 149,-6.2|150,-2.5 153,-4.2 152.5,-4.3",
"Australia":"114,-22 113.5,-26 115,-30 115,-34.3 118,-35 124,-33 129,-31.6 131.5,-31.5 134,-33 135.5,-35 137.7,-32.7 137.8,-35.5 140,-37.8 143.5,-38.8 146.5,-39 150,-37.3 151,-34 153.2,-30 153,-25.5 149.5,-22 146,-19 145.3,-15 143.5,-14 142.5,-10.8 141.7,-13 141,-16.5 139.5,-17.5 135.5,-15 137,-12.2 132.5,-11.2 130,-12.5 129,-15 125,-14.5 122,-18 117,-20.6|144.7,-40.8 148.3,-40.9 148,-43 146,-43.6",
"New Zealand":"172.7,-34.5 174.5,-36 176,-37.6 178.4,-37.7 177,-39.5 175.2,-41.6 174.7,-39.5 174.7,-37.5|172.7,-40.5 174.3,-41.7 172.7,-43.6 170.7,-46 168.5,-46.6 166.5,-45.8 170.5,-42.9",
"Solomon Islands":"154.6,-5.3 156,-6.6 155.5,-6.8|156.5,-7 159,-8.2 158,-8|159,-8 161,-9.8 160.5,-9.8|160,-9.3 160.8,-9.9 159.8,-9.8|161.3,-10.2 162.4,-10.9 161.8,-10.8",
"New Caledonia":"164,-20 167,-22.3 166.5,-22.3",
"Fiji":"178,-17.5 178.5,-18 177.3,-18"
};

/* tiny islands, longitude,latitude */
const tinyIslands = "-160,22 -158,21.4 -157,21 -156.3,20.8 -170,-14 -172,-13.5 -175,-21 -150,-17.5 -140,-9 -157,2 -147,-15 -145,-17 -158,-21 57.5,-20.3 55.5,-21 73.5,4 73.3,1 72.8,6 -16,28.3 -14,28.5 -17,32.7 -25.5,37.8 -28,38.5 -64.8,32.3 -15,-8 -5.7,-16 -37,-54.5 -59,-51.7 -60,-51.5 -91.5,-0.5 -91,-0.3 -90.5,-0.8 -24,16 -23.5,15 -25,17 -24.5,14.9 144.8,13.5 145.7,15 134.5,7.5 138,9.5 151.8,7.4 158,7 163,5.3 168,7 171,7 173,1.4 112,16 114,10 115,9 116,11 113,12 117,10 118,12 114.5,9.5 115.5,10.3 116.5,9 166,-16 167,-15 168,-17 169,-19 -61,16 -61,14.7 -61,13 -63,18 -62,17 -60,13.2 -61.3,15.4 -80,26.8 -81.5,24.6 -70,12.5 -68.5,12.2 25,37 25.5,36.7 26,38.3 27,37 28,36.3 24.3,37.5 25.2,37.8 26,39.2 25,40.5 24.8,36.7 26.8,37.7 27.3,36.7 20.7,38.3 20,39.5 21,37.8 42,12.5 70,-49 77.5,-38 105.5,-10.5 168,-29 159,-31.5 -109.4,-27 -80,-33.6 -175,-40 -176.5,-44 169,-52 166,-50 92.7,13 92.6,12 92.7,11 93.5,8 93.8,7 -81,53 -80,62 -82,62.6 -79,56.2 -80.5,56 -65,47 -63.2,46.4".split(' ').map(p => p.split(',').map(Number));

/* ---------- helpers ---------- */
const SVGNS = 'http://www.w3.org/2000/svg';
const mapsRoot = document.getElementById('maps');
const defsRoot = document.getElementById('defs');
const shapes = {};
countries.forEach(function (n) {
  shapes[n] = geo[n].split('|').map(r => r.trim().split(/\s+/).map(p => p.split(',').map(Number)));
});
function slug(s) { return s.toLowerCase().replace(/[^a-z0-9]+/g, '-'); }
function binIndex(v, breaks) {
  for (let i = 1; i < breaks.length - 1; i++) if (v < breaks[i]) return i - 1;
  return breaks.length - 2;
}
function worldX(lon) { return 820 + 4.02 * lon; }
function worldY(lat) { return 383 - 4.13 * lat + (lat < -10 ? (-10 - lat) * 0.1 : 0); }
function pathFor(rings, fx, fy) {
  return rings.map(r => 'M' + r.map(p => fx(p[0]).toFixed(1) + ' ' + fy(p[1]).toFixed(1)).join('L') + 'Z').join('');
}
function clipAxis(pts, axis, val, keepAbove) {
  const out = [];
  const inside = p => keepAbove ? p[axis] >= val : p[axis] <= val;
  for (let i = 0; i < pts.length; i++) {
    const a = pts[i], b = pts[(i + 1) % pts.length];
    const ia = inside(a), ib = inside(b);
    if (ia) out.push(a);
    if (ia !== ib) {
      const t = (val - a[axis]) / (b[axis] - a[axis]);
      out.push([a[0] + t * (b[0] - a[0]), a[1] + t * (b[1] - a[1])]);
    }
  }
  return out;
}
function clipRings(rings, w) {
  const res = [];
  rings.forEach(function (r) {
    let p = clipAxis(r, 0, w[0], true);
    if (p.length) p = clipAxis(p, 0, w[1], false);
    if (p.length) p = clipAxis(p, 1, w[2], true);
    if (p.length) p = clipAxis(p, 1, w[3], false);
    if (p.length >= 2) res.push(p);
  });
  return res;
}

function drawCountries(parent, fx, fy, values, breaks, colors, strokeW, win, prefix) {
  countries.forEach(function (name, i) {
    const rings = win ? clipRings(shapes[name], win) : shapes[name];
    if (!rings.length) return;
    const el = document.createElementNS(SVGNS, 'path');
    el.setAttribute('d', pathFor(rings, fx, fy));
    el.setAttribute('fill', colors[binIndex(values[i], breaks)]);
    el.setAttribute('stroke', '#3b3b3b');
    el.setAttribute('stroke-width', strokeW);
    el.setAttribute('stroke-linejoin', 'round');
    
    
    parent.appendChild(el);
  });
  const dots = document.createElementNS(SVGNS, 'g');
  
  
  tinyIslands.forEach(function (p) {
    if (win && (p[0] < win[0] + .3 || p[0] > win[1] - .3 || p[1] < win[2] + .3 || p[1] > win[3] - .3)) return;
    const c = document.createElementNS(SVGNS, 'circle');
    c.setAttribute('cx', fx(p[0]).toFixed(1));
    c.setAttribute('cy', fy(p[1]).toFixed(1));
    c.setAttribute('r', win ? 2.2 : 1.4);
    c.setAttribute('fill', '#3b3b3b');
    dots.appendChild(c);
  });
  parent.appendChild(dots);
}

/* ---------- layout ---------- */
const insetBoxes = [
  {key:'caribbean', x:20, y:784, w:398, h:249, win:[-94,-58,3.9,28.1], title:0, tx:20, ty:745},
  {key:'persian-gulf', x:445, y:784, w:265, h:249, win:[43.7,56.3,18.8,31.5], title:1, tx:445, ty:745},
  {key:'balkan', x:738, y:784, w:291, h:249, win:[10.2,32.6,34.2,52], title:2, tx:738, ty:745},
  {key:'southeast-asia', x:1057, y:784, w:318, h:249, win:[96.5,123.9,-11,9.2], title:3, tx:1057, ty:745},
  {key:'west-africa', x:1402, y:784, w:119, h:93, win:[-18,-5,8.9,18.7], title:4, tx:1402, ty:745},
  {key:'east-mediterranean', x:1549, y:784, w:118, h:93, win:[32,36.9,28.5,35.4], title:-1},
  {key:'northern-europe', x:1402, y:940, w:265, h:93, win:[3,26.2,46.4,62.4], title:5, tx:1402, ty:925}
];
const panels = [
  {key:'a', dx:0, dy:0, values:deathRates, breaks:deathRateBreaks, colors:palette5, labels:deathRateLabels, rowsFirst:3,
   title:'Deaths rates', unit:' （/100 000）', tx:102, ty:486, top:500, sx:[102,255], lx:[146,299]},
  {key:'b', dx:1755.7, dy:0, values:deathChange, breaks:deathChangeBreaks, colors:palette10, labels:deathChangeLabels, rowsFirst:5,
   title:'Deaths cases change', unit:' （%）', tx:1812, ty:463, top:477.7, sx:[1812,2011], lx:[1857,2055]},
  {key:'c', dx:0, dy:1124, values:dalyRates, breaks:dalyRateBreaks, colors:palette10, labels:dalyRateLabels, rowsFirst:5,
   title:'DALYs rates', unit:' （/100 000）', tx:35, ty:1591, top:1605, sx:[35,234], lx:[78,276]},
  {key:'d', dx:1755.7, dy:1124, values:dalyChange, breaks:dalyChangeBreaks, colors:paletteCool, labels:dalyChangeLabels, rowsFirst:5,
   title:'DALYs cases change', unit:' （%）', tx:1790, ty:1591, top:1605, sx:[1790,1990], lx:[1834,2034]}
];

/* ---------- draw ---------- */
panels.forEach(function (pn) {
  const group = document.createElementNS(SVGNS, 'g');
  
  
  mapsRoot.appendChild(group);

  const world = document.createElementNS(SVGNS, 'g');
  
  
  group.appendChild(world);
  drawCountries(world, lon => worldX(lon) + pn.dx, lat => worldY(lat) + pn.dy, pn.values, pn.breaks, pn.colors, 1.8, null, 'country-');

  /* legend */
  const legend = document.createElementNS(SVGNS, 'g');
  
  
  group.appendChild(legend);
  const lt = document.createElementNS(SVGNS, 'text');
  lt.setAttribute('class', 'ltitle');
  lt.setAttribute('x', pn.tx);
  lt.setAttribute('y', pn.ty);
  
  
  lt.textContent = pn.title + pn.unit;
  legend.appendChild(lt);
  pn.labels.forEach(function (lab, i) {
    const col = i < pn.rowsFirst ? 0 : 1;
    const row = col ? i - pn.rowsFirst : i;
    const y = pn.top + row * 22.5;
    const r = document.createElementNS(SVGNS, 'rect');
    r.setAttribute('x', pn.sx[col]);
    r.setAttribute('y', y);
    r.setAttribute('width', 33);
    r.setAttribute('height', 22.5);
    r.setAttribute('fill', pn.colors[i]);
    r.setAttribute('stroke', '#4a4a4a');
    r.setAttribute('stroke-width', 1.8);
    
    
    legend.appendChild(r);
    const t = document.createElementNS(SVGNS, 'text');
    t.setAttribute('class', 'ltext');
    t.setAttribute('x', pn.lx[col]);
    t.setAttribute('y', y + 18);
    
    
    t.textContent = lab;
    legend.appendChild(t);
  });

  /* insets */
  insetBoxes.forEach(function (b) {
    const bx = b.x + pn.dx, by = b.y + pn.dy;
    const ig = document.createElementNS(SVGNS, 'g');
    
    
    group.appendChild(ig);

    const fx = lon => bx + (lon - b.win[0]) / (b.win[1] - b.win[0]) * b.w;
    const fy = lat => by + (b.win[3] - lat) / (b.win[3] - b.win[2]) * b.h;
    drawCountries(ig, fx, fy, pn.values, pn.breaks, pn.colors, 1.9, b.win, 'inset-country-');

    const frame = document.createElementNS(SVGNS, 'rect');
    frame.setAttribute('x', bx);
    frame.setAttribute('y', by);
    frame.setAttribute('width', b.w);
    frame.setAttribute('height', b.h);
    frame.setAttribute('fill', 'none');
    frame.setAttribute('stroke', '#1a1a1a');
    frame.setAttribute('stroke-width', 2);
    
    
    ig.appendChild(frame);

    if (b.title >= 0) {
      const tt = document.createElementNS(SVGNS, 'text');
      tt.setAttribute('class', 'ititle');
      tt.setAttribute('x', b.tx + pn.dx);
      tt.setAttribute('y', b.ty + pn.dy);
      
      
      tt.textContent = insetTitles[b.title];
      ig.appendChild(tt);
    }
  });

  /* two-line Eastern Mediterranean title, cut off at its right edge */
  const emClip = document.createElementNS(SVGNS, 'clipPath');
  emClip.setAttribute('id', 'clip-em-' + pn.key);
  const emRect = document.createElementNS(SVGNS, 'rect');
  emRect.setAttribute('x', 1549 + pn.dx);
  emRect.setAttribute('y', 700 + pn.dy);
  emRect.setAttribute('width', 141);
  emRect.setAttribute('height', 80);
  emClip.appendChild(emRect);
  defsRoot.appendChild(emClip);
  const em = document.createElementNS(SVGNS, 'text');
  em.setAttribute('class', 'ititle');
  em.setAttribute('clip-path', 'url(#clip-em-' + pn.key + ')');
  em.setAttribute('letter-spacing', '-0.2');
  
  
  const l1 = document.createElementNS(SVGNS, 'tspan');
  l1.setAttribute('x', 1549 + pn.dx);
  l1.setAttribute('y', 745 + pn.dy);
  l1.textContent = 'Eastern';
  const l2 = document.createElementNS(SVGNS, 'tspan');
  l2.setAttribute('x', 1549 + pn.dx);
  l2.setAttribute('y', 771 + pn.dy);
  l2.textContent = 'Mediterranea';
  em.appendChild(l1);
  em.appendChild(l2);
  group.appendChild(em);
});
</script>
</body>
</html>
